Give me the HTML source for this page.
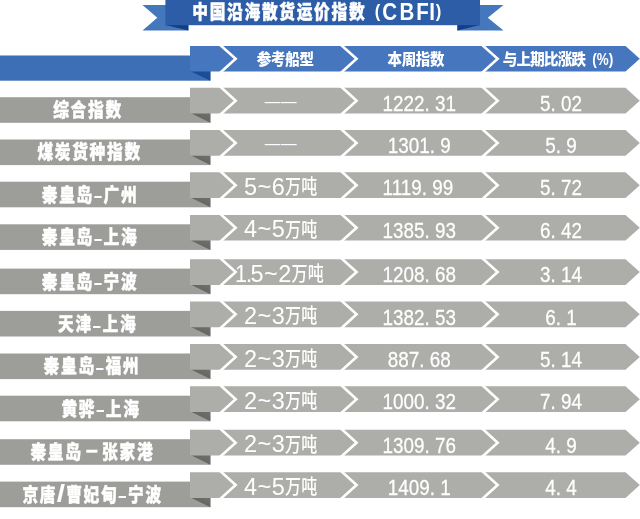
<!DOCTYPE html>
<html lang="zh-CN"><head><meta charset="utf-8"><title>中国沿海散货运价指数 (CBFI)</title>
<style>
html,body{margin:0;padding:0;background:#fff;}
body{width:640px;height:519px;overflow:hidden;}
svg{display:block;will-change:transform;opacity:0.999;}
text{fill:#fff;text-anchor:middle;font-family:"Liberation Sans","Noto Sans CJK SC",sans-serif;}
.lab{font-weight:900;font-size:19px;stroke:#fff;stroke-width:0.4px;stroke-linejoin:round;}
.tpar{font-weight:900;font-size:18.5px;}
.tlat{font-weight:900;font-size:24.3px;}
.labs{font-weight:900;font-size:24px;}
.labh{font-weight:900;font-size:17px;}
.hdr{font-weight:900;font-size:15.6px;}
.ship{font-weight:400;font-size:23.5px;}
.shipc{font-weight:500;font-size:20px;}
.num{font-weight:400;font-size:22px;stroke:#fff;stroke-width:0.25px;text-anchor:start;}
</style></head><body>
<svg width="640" height="519" viewBox="0 0 640 519">
<defs>
<linearGradient id="gfold" x1="0" y1="1" x2="1" y2="0"><stop offset="0" stop-color="#5d5e5a"/><stop offset="1" stop-color="#70716c"/></linearGradient>
<linearGradient id="bfold" x1="0" y1="1" x2="1" y2="0"><stop offset="0" stop-color="#15448e"/><stop offset="1" stop-color="#1f509b"/></linearGradient>
</defs>
<polygon points="142.5,5 188.4,5 188.4,30.4 142.5,30.4 157.3,17.7" fill="#4577bd"/>
<polygon points="457.4,5 503.5,5 487.8,17.7 503.5,30.4 457.4,30.4" fill="#4577bd"/>
<polygon points="165.4,25 188.4,25 188.4,30.4" fill="#123f89"/>
<polygon points="457.4,25 480,25 457.4,30.4" fill="#123f89"/>
<rect x="165.4" y="0" width="314.6" height="25.2" fill="#2c5da6"/>
<g><text class="lab" transform="translate(0,19.00) scale(0.83,1)" x="241.20 262.17 283.13 304.10 325.06 346.02 366.99 387.95 408.92 429.88">中国沿海散货运价指数 </text><text class="tpar" transform="translate(0,17.40) scale(0.9,1)" x="419.56">(</text><text class="tlat" transform="translate(0,20.00) scale(0.845,1)" x="461.12 481.60 499.88 511.36">CBFI</text><text class="tpar" transform="translate(0,17.40) scale(0.9,1)" x="487.33">)</text></g>
<rect x="0" y="55.50" width="210.4" height="25.2" fill="#3d6fb6"/>
<polygon points="190,71.10 210.4,71.10 210.4,80.70" fill="url(#bfold)"/>
<polygon points="190,46.10 625.5,46.10 639.8,58.85 625.5,71.60 190,71.60" fill="#4677be"/>
<polygon points="218.2,44.90 222.1,44.90 237.6,58.85 222.1,72.80 218.2,72.80 233.7,58.85" fill="#fff"/>
<polygon points="339.1,44.90 343.0,44.90 358.5,58.85 343.0,72.80 339.1,72.80 354.6,58.85" fill="#fff"/>
<polygon points="480.2,44.90 484.1,44.90 499.6,58.85 484.1,72.80 480.2,72.80 495.7,58.85" fill="#fff"/>
<g><text class="hdr" transform="translate(0,64.90) scale(0.93,1)" x="283.98 299.25 314.52 329.78">参考船型</text></g>
<g><text class="hdr" transform="translate(0,64.90) scale(0.93,1)" x="424.41 439.68 454.95 470.22">本周指数</text></g>
<g><text class="hdr" transform="translate(0,64.90) scale(0.93,1)" x="548.47 563.25 578.04 592.82 607.61 622.39">与上期比涨跌 </text><text class="hdr" transform="translate(0,64.90) scale(0.88,1)" x="675.57">(</text><text class="hdr" transform="translate(0,64.90) scale(0.86,1)" x="700.93">%</text><text class="hdr" transform="translate(0,64.90) scale(0.88,1)" x="694.43">)</text></g>
<rect x="0" y="97.20" width="210.4" height="25.6" fill="#9d9e9a"/>
<polygon points="190,112.80 210.4,112.80 210.4,122.80" fill="url(#gfold)"/>
<polygon points="190,87.80 625.5,87.80 639.8,100.65 625.5,113.50 190,113.50" fill="#adaea9"/>
<polygon points="218.2,86.60 222.1,86.60 237.6,100.65 222.1,114.70 218.2,114.70 233.7,100.65" fill="#fff"/>
<polygon points="339.1,86.60 343.0,86.60 358.5,100.65 343.0,114.70 339.1,114.70 354.6,100.65" fill="#fff"/>
<polygon points="480.2,86.60 484.1,86.60 499.6,100.65 484.1,114.70 480.2,114.70 495.7,100.65" fill="#fff"/>
<g><text class="lab" transform="translate(0,117.10) scale(0.83,1)" x="73.61 94.58 115.54 136.51">综合指数</text></g>
<text class="ship" style="font-weight:300;font-size:15.6px" transform="translate(0,106.90)" x="272.6 288.8">——</text>
<text class="num" transform="translate(382.55,110.90) scale(0.8582,1)">1222.<tspan dx="6.12">31</tspan></text>
<text class="num" transform="translate(540.00,110.90) scale(0.8582,1)">5.<tspan dx="6.12">02</tspan></text>
<rect x="0" y="139.50" width="210.4" height="25.6" fill="#9d9e9a"/>
<polygon points="190,155.10 210.4,155.10 210.4,165.10" fill="url(#gfold)"/>
<polygon points="190,130.10 625.5,130.10 639.8,142.95 625.5,155.80 190,155.80" fill="#adaea9"/>
<polygon points="218.2,128.90 222.1,128.90 237.6,142.95 222.1,157.00 218.2,157.00 233.7,142.95" fill="#fff"/>
<polygon points="339.1,128.90 343.0,128.90 358.5,142.95 343.0,157.00 339.1,157.00 354.6,142.95" fill="#fff"/>
<polygon points="480.2,128.90 484.1,128.90 499.6,142.95 484.1,157.00 480.2,157.00 495.7,142.95" fill="#fff"/>
<g><text class="lab" transform="translate(0,159.40) scale(0.83,1)" x="54.58 75.54 96.51 117.47 138.43 159.40">煤炭货种指数</text></g>
<text class="ship" style="font-weight:300;font-size:15.6px" transform="translate(0,149.20)" x="272.6 288.8">——</text>
<text class="num" transform="translate(387.80,153.20) scale(0.8582,1)">1301.<tspan dx="6.12">9</tspan></text>
<text class="num" transform="translate(545.25,153.20) scale(0.8582,1)">5.<tspan dx="6.12">9</tspan></text>
<rect x="0" y="181.70" width="210.4" height="25.6" fill="#9d9e9a"/>
<polygon points="190,197.30 210.4,197.30 210.4,207.30" fill="url(#gfold)"/>
<polygon points="190,172.30 625.5,172.30 639.8,185.15 625.5,198.00 190,198.00" fill="#adaea9"/>
<polygon points="218.2,171.10 222.1,171.10 237.6,185.15 222.1,199.20 218.2,199.20 233.7,185.15" fill="#fff"/>
<polygon points="339.1,171.10 343.0,171.10 358.5,185.15 343.0,199.20 339.1,199.20 354.6,185.15" fill="#fff"/>
<polygon points="480.2,171.10 484.1,171.10 499.6,185.15 484.1,199.20 480.2,199.20 495.7,185.15" fill="#fff"/>
<g><text class="lab" transform="translate(0,201.60) scale(0.83,1)" x="59.88 80.84 101.81">秦皇岛</text><text class="labh" transform="translate(0,201.30) scale(1.7,1)" x="57.65">-</text><text class="lab" transform="translate(0,201.60) scale(0.83,1)" x="134.34 155.30">广州</text></g>
<g><text class="ship" transform="translate(0,194.80) scale(1.0,1)" x="250.50 264.40 278.30">5~6</text><text class="shipc" transform="translate(0,194.10) scale(0.8,1)" x="366.25 386.50">万吨</text></g>
<text class="num" transform="translate(382.55,195.40) scale(0.8582,1)">1119.<tspan dx="6.12">99</tspan></text>
<text class="num" transform="translate(540.00,195.40) scale(0.8582,1)">5.<tspan dx="6.12">72</tspan></text>
<rect x="0" y="224.30" width="210.4" height="25.6" fill="#9d9e9a"/>
<polygon points="190,239.90 210.4,239.90 210.4,249.90" fill="url(#gfold)"/>
<polygon points="190,214.90 625.5,214.90 639.8,227.75 625.5,240.60 190,240.60" fill="#adaea9"/>
<polygon points="218.2,213.70 222.1,213.70 237.6,227.75 222.1,241.80 218.2,241.80 233.7,227.75" fill="#fff"/>
<polygon points="339.1,213.70 343.0,213.70 358.5,227.75 343.0,241.80 339.1,241.80 354.6,227.75" fill="#fff"/>
<polygon points="480.2,213.70 484.1,213.70 499.6,227.75 484.1,241.80 480.2,241.80 495.7,227.75" fill="#fff"/>
<g><text class="lab" transform="translate(0,244.20) scale(0.83,1)" x="59.88 80.84 101.81">秦皇岛</text><text class="labh" transform="translate(0,243.90) scale(1.7,1)" x="57.65">-</text><text class="lab" transform="translate(0,244.20) scale(0.83,1)" x="134.34 155.30">上海</text></g>
<g><text class="ship" transform="translate(0,237.40) scale(1.0,1)" x="250.50 264.40 278.30">4~5</text><text class="shipc" transform="translate(0,236.70) scale(0.8,1)" x="366.25 386.50">万吨</text></g>
<text class="num" transform="translate(382.55,238.00) scale(0.8582,1)">1385.<tspan dx="6.12">93</tspan></text>
<text class="num" transform="translate(540.00,238.00) scale(0.8582,1)">6.<tspan dx="6.12">42</tspan></text>
<rect x="0" y="268.60" width="210.4" height="25.6" fill="#9d9e9a"/>
<polygon points="190,284.20 210.4,284.20 210.4,294.20" fill="url(#gfold)"/>
<polygon points="190,259.20 625.5,259.20 639.8,272.05 625.5,284.90 190,284.90" fill="#adaea9"/>
<polygon points="218.2,258.00 222.1,258.00 237.6,272.05 222.1,286.10 218.2,286.10 233.7,272.05" fill="#fff"/>
<polygon points="339.1,258.00 343.0,258.00 358.5,272.05 343.0,286.10 339.1,286.10 354.6,272.05" fill="#fff"/>
<polygon points="480.2,258.00 484.1,258.00 499.6,272.05 484.1,286.10 480.2,286.10 495.7,272.05" fill="#fff"/>
<g><text class="lab" transform="translate(0,288.50) scale(0.83,1)" x="59.88 80.84 101.81">秦皇岛</text><text class="labh" transform="translate(0,288.20) scale(1.7,1)" x="57.65">-</text><text class="lab" transform="translate(0,288.50) scale(0.83,1)" x="134.34 155.30">宁波</text></g>
<g><text class="ship" transform="translate(0,281.70) scale(0.92,1)" x="261.90">1</text><text class="ship" transform="translate(0,281.70) scale(1.0,1)" x="249.05 257.00 270.90 284.80">.5~2</text><text class="shipc" transform="translate(0,281.00) scale(0.8,1)" x="374.38 394.63">万吨</text></g>
<text class="num" transform="translate(382.55,282.30) scale(0.8582,1)">1208.<tspan dx="6.12">68</tspan></text>
<text class="num" transform="translate(540.00,282.30) scale(0.8582,1)">3.<tspan dx="6.12">14</tspan></text>
<rect x="0" y="310.90" width="210.4" height="25.6" fill="#9d9e9a"/>
<polygon points="190,326.50 210.4,326.50 210.4,336.50" fill="url(#gfold)"/>
<polygon points="190,301.50 625.5,301.50 639.8,314.35 625.5,327.20 190,327.20" fill="#adaea9"/>
<polygon points="218.2,300.30 222.1,300.30 237.6,314.35 222.1,328.40 218.2,328.40 233.7,314.35" fill="#fff"/>
<polygon points="339.1,300.30 343.0,300.30 358.5,314.35 343.0,328.40 339.1,328.40 354.6,314.35" fill="#fff"/>
<polygon points="480.2,300.30 484.1,300.30 499.6,314.35 484.1,328.40 480.2,328.40 495.7,314.35" fill="#fff"/>
<g><text class="lab" transform="translate(0,330.80) scale(0.83,1)" x="79.52 100.48">天津</text><text class="labh" transform="translate(0,330.50) scale(1.7,1)" x="57.00">-</text><text class="lab" transform="translate(0,330.80) scale(0.83,1)" x="133.01 153.98">上海</text></g>
<g><text class="ship" transform="translate(0,324.00) scale(1.0,1)" x="250.50 264.40 278.30">2~3</text><text class="shipc" transform="translate(0,323.30) scale(0.8,1)" x="366.25 386.50">万吨</text></g>
<text class="num" transform="translate(382.55,324.60) scale(0.8582,1)">1382.<tspan dx="6.12">53</tspan></text>
<text class="num" transform="translate(545.25,324.60) scale(0.8582,1)">6.<tspan dx="6.12">1</tspan></text>
<rect x="0" y="353.50" width="210.4" height="25.6" fill="#9d9e9a"/>
<polygon points="190,369.10 210.4,369.10 210.4,379.10" fill="url(#gfold)"/>
<polygon points="190,344.10 625.5,344.10 639.8,356.95 625.5,369.80 190,369.80" fill="#adaea9"/>
<polygon points="218.2,342.90 222.1,342.90 237.6,356.95 222.1,371.00 218.2,371.00 233.7,356.95" fill="#fff"/>
<polygon points="339.1,342.90 343.0,342.90 358.5,356.95 343.0,371.00 339.1,371.00 354.6,356.95" fill="#fff"/>
<polygon points="480.2,342.90 484.1,342.90 499.6,356.95 484.1,371.00 480.2,371.00 495.7,356.95" fill="#fff"/>
<g><text class="lab" transform="translate(0,373.40) scale(0.83,1)" x="62.05 83.01 103.98">秦皇岛</text><text class="labh" transform="translate(0,373.10) scale(1.7,1)" x="58.71">-</text><text class="lab" transform="translate(0,373.40) scale(0.83,1)" x="136.51 157.47">福州</text></g>
<g><text class="ship" transform="translate(0,366.60) scale(1.0,1)" x="250.50 264.40 278.30">2~3</text><text class="shipc" transform="translate(0,365.90) scale(0.8,1)" x="366.25 386.50">万吨</text></g>
<text class="num" transform="translate(387.80,367.20) scale(0.8582,1)">887.<tspan dx="6.12">68</tspan></text>
<text class="num" transform="translate(540.00,367.20) scale(0.8582,1)">5.<tspan dx="6.12">14</tspan></text>
<rect x="0" y="395.70" width="210.4" height="25.6" fill="#9d9e9a"/>
<polygon points="190,411.30 210.4,411.30 210.4,421.30" fill="url(#gfold)"/>
<polygon points="190,386.30 625.5,386.30 639.8,399.15 625.5,412.00 190,412.00" fill="#adaea9"/>
<polygon points="218.2,385.10 222.1,385.10 237.6,399.15 222.1,413.20 218.2,413.20 233.7,399.15" fill="#fff"/>
<polygon points="339.1,385.10 343.0,385.10 358.5,399.15 343.0,413.20 339.1,413.20 354.6,399.15" fill="#fff"/>
<polygon points="480.2,385.10 484.1,385.10 499.6,399.15 484.1,413.20 480.2,413.20 495.7,399.15" fill="#fff"/>
<g><text class="lab" transform="translate(0,415.60) scale(0.83,1)" x="83.49 104.46">黄骅</text><text class="labh" transform="translate(0,415.30) scale(1.7,1)" x="58.94">-</text><text class="lab" transform="translate(0,415.60) scale(0.83,1)" x="136.99 157.95">上海</text></g>
<g><text class="ship" transform="translate(0,408.80) scale(1.0,1)" x="250.50 264.40 278.30">2~3</text><text class="shipc" transform="translate(0,408.10) scale(0.8,1)" x="366.25 386.50">万吨</text></g>
<text class="num" transform="translate(382.55,409.40) scale(0.8582,1)">1000.<tspan dx="6.12">32</tspan></text>
<text class="num" transform="translate(540.00,409.40) scale(0.8582,1)">7.<tspan dx="6.12">94</tspan></text>
<rect x="0" y="439.20" width="210.4" height="25.6" fill="#9d9e9a"/>
<polygon points="190,454.80 210.4,454.80 210.4,464.80" fill="url(#gfold)"/>
<polygon points="190,429.80 625.5,429.80 639.8,442.65 625.5,455.50 190,455.50" fill="#adaea9"/>
<polygon points="218.2,428.60 222.1,428.60 237.6,442.65 222.1,456.70 218.2,456.70 233.7,442.65" fill="#fff"/>
<polygon points="339.1,428.60 343.0,428.60 358.5,442.65 343.0,456.70 339.1,456.70 354.6,442.65" fill="#fff"/>
<polygon points="480.2,428.60 484.1,428.60 499.6,442.65 484.1,456.70 480.2,456.70 495.7,442.65" fill="#fff"/>
<g><text class="lab" transform="translate(0,459.10) scale(0.83,1)" x="46.14 67.11 88.07">秦皇岛</text><text class="lab" transform="translate(0,459.10) scale(0.8,1)" x="114.81">－</text><text class="lab" transform="translate(0,459.10) scale(0.83,1)" x="132.53 153.49 174.46">张家港</text></g>
<g><text class="ship" transform="translate(0,452.30) scale(1.0,1)" x="250.50 264.40 278.30">2~3</text><text class="shipc" transform="translate(0,451.60) scale(0.8,1)" x="366.25 386.50">万吨</text></g>
<text class="num" transform="translate(382.55,452.90) scale(0.8582,1)">1309.<tspan dx="6.12">76</tspan></text>
<text class="num" transform="translate(545.25,452.90) scale(0.8582,1)">4.<tspan dx="6.12">9</tspan></text>
<rect x="0" y="481.60" width="210.4" height="25.6" fill="#9d9e9a"/>
<polygon points="190,497.20 210.4,497.20 210.4,507.20" fill="url(#gfold)"/>
<polygon points="190,472.20 625.5,472.20 639.8,485.05 625.5,497.90 190,497.90" fill="#adaea9"/>
<polygon points="218.2,471.00 222.1,471.00 237.6,485.05 222.1,499.10 218.2,499.10 233.7,485.05" fill="#fff"/>
<polygon points="339.1,471.00 343.0,471.00 358.5,485.05 343.0,499.10 339.1,499.10 354.6,485.05" fill="#fff"/>
<polygon points="480.2,471.00 484.1,471.00 499.6,485.05 484.1,499.10 480.2,499.10 495.7,485.05" fill="#fff"/>
<g><text class="lab" transform="translate(0,501.50) scale(0.83,1)" x="36.51 57.47">京唐</text><text class="labs" transform="translate(0,501.80) scale(1.25,1)" x="48.72">/</text><text class="lab" transform="translate(0,501.50) scale(0.83,1)" x="89.28 110.24 131.20">曹妃甸</text><text class="labh" transform="translate(0,501.20) scale(1.7,1)" x="72.00">-</text><text class="lab" transform="translate(0,501.50) scale(0.83,1)" x="163.73 184.70">宁波</text></g>
<g><text class="ship" transform="translate(0,494.70) scale(1.0,1)" x="250.50 264.40 278.30">4~5</text><text class="shipc" transform="translate(0,494.00) scale(0.8,1)" x="366.25 386.50">万吨</text></g>
<text class="num" transform="translate(387.80,495.30) scale(0.8582,1)">1409.<tspan dx="6.12">1</tspan></text>
<text class="num" transform="translate(545.25,495.30) scale(0.8582,1)">4.<tspan dx="6.12">4</tspan></text>
</svg></body></html>
